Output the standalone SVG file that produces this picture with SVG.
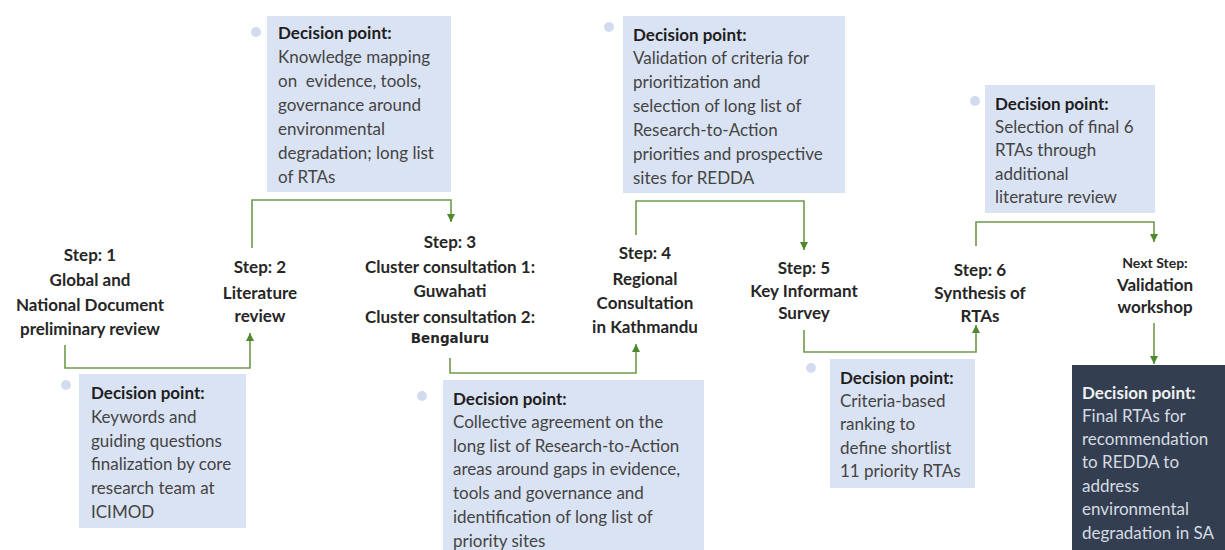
<svg xmlns="http://www.w3.org/2000/svg" width="1225" height="550" viewBox="0 0 1225 550">
<style>
.box{fill:#dae3f3}
.dark{fill:#333f50}
.dot{fill:#d3dcef}
.t{font-family:Lato,"Liberation Sans",sans-serif;font-size:17px;fill:#444}
.h{font-family:Lato,"Liberation Sans",sans-serif;font-size:17px;font-weight:bold;fill:#1e1e1e}
.tw{font-family:Lato,"Liberation Sans",sans-serif;font-size:17px;fill:#d6dbe3}
.hw{font-family:Lato,"Liberation Sans",sans-serif;font-size:17px;font-weight:bold;fill:#eef0f3}
.s{font-family:Lato,"Liberation Sans",sans-serif;font-size:17px;font-weight:bold;fill:#262626;text-anchor:middle}
.ss{font-family:Lato,"Liberation Sans",sans-serif;font-size:14px;font-weight:bold;fill:#262626;text-anchor:middle}
.c{fill:none;stroke:#6f9a4c;stroke-width:1.6}
</style>
<defs>
<marker id="ah" viewBox="0 0 10 10" refX="10" refY="5" markerWidth="8" markerHeight="8" markerUnits="userSpaceOnUse" orient="auto">
<path d="M0,0 L10,5 L0,10 Z" fill="#4e8a2c"/>
</marker>
</defs>
<rect width="1225" height="550" fill="#fff"/>

<g id="connectors">
<polyline class="c" points="65,345 65,368 250,368 250,333" marker-end="url(#ah)"/>
<polyline class="c" points="252,248 252,200 451,200 451,222" marker-end="url(#ah)"/>
<polyline class="c" points="450,358 450,373 636,373 636,344" marker-end="url(#ah)"/>
<polyline class="c" points="636,235 636,201 804,201 804,250" marker-end="url(#ah)"/>
<polyline class="c" points="804,330 804,352 976,352 976,325" marker-end="url(#ah)"/>
<polyline class="c" points="976,246 976,222 1154,222 1154,242" marker-end="url(#ah)"/>
<polyline class="c" points="1154,323 1154,364" marker-end="url(#ah)"/>
</g>

<g id="dp1">
<circle class="dot" cx="256" cy="32" r="5"/>
<rect class="box" x="267" y="16" width="184" height="176"/>
<text class="h" x="278" y="39">Decision point:</text>
<text class="t" x="278" y="63">Knowledge mapping</text>
<text class="t" x="278" y="87" xml:space="preserve">on  evidence, tools,</text>
<text class="t" x="278" y="111">governance around</text>
<text class="t" x="278" y="135">environmental</text>
<text class="t" x="278" y="159">degradation; long list</text>
<text class="t" x="278" y="183">of RTAs</text>
</g>

<g id="dp2">
<circle class="dot" cx="609" cy="27" r="5"/>
<rect class="box" x="623" y="16" width="222" height="177"/>
<text class="h" x="633" y="41">Decision point:</text>
<text class="t" x="633" y="64">Validation of criteria for</text>
<text class="t" x="633" y="88">prioritization and</text>
<text class="t" x="633" y="112">selection of long list of</text>
<text class="t" x="633" y="136">Research-to-Action</text>
<text class="t" x="633" y="160">priorities and prospective</text>
<text class="t" x="633" y="184">sites for REDDA</text>
</g>

<g id="dp3">
<circle class="dot" cx="975" cy="101" r="5"/>
<rect class="box" x="985" y="85" width="170" height="128"/>
<text class="h" x="995" y="110">Decision point:</text>
<text class="t" x="995" y="133">Selection of final 6</text>
<text class="t" x="995" y="156">RTAs through</text>
<text class="t" x="995" y="180">additional</text>
<text class="t" x="995" y="203">literature review</text>
</g>

<g id="dp4">
<circle class="dot" cx="66" cy="385" r="5"/>
<rect class="box" x="79" y="374" width="167" height="154"/>
<text class="h" x="91" y="399">Decision point:</text>
<text class="t" x="91" y="423">Keywords and</text>
<text class="t" x="91" y="447">guiding questions</text>
<text class="t" x="91" y="470">finalization by core</text>
<text class="t" x="91" y="494">research team at</text>
<text class="t" x="91" y="518">ICIMOD</text>
</g>

<g id="dp5">
<circle class="dot" cx="422" cy="396" r="5"/>
<rect class="box" x="443" y="380" width="261" height="170"/>
<text class="h" x="453" y="405">Decision point:</text>
<text class="t" x="453" y="428">Collective agreement on the</text>
<text class="t" x="453" y="452">long list of Research-to-Action</text>
<text class="t" x="453" y="475">areas around gaps in evidence,</text>
<text class="t" x="453" y="499">tools and governance and</text>
<text class="t" x="453" y="523">identification of long list of</text>
<text class="t" x="453" y="547">priority sites</text>
</g>

<g id="dp6">
<circle class="dot" cx="811" cy="368" r="5"/>
<rect class="box" x="830" y="359" width="145" height="129"/>
<text class="h" x="840" y="384">Decision point:</text>
<text class="t" x="840" y="407">Criteria-based</text>
<text class="t" x="840" y="430">ranking to</text>
<text class="t" x="840" y="454">define shortlist</text>
<text class="t" x="840" y="477">11 priority RTAs</text>
</g>

<g id="dp7">
<rect class="dark" x="1072" y="365" width="153" height="185"/>
<text class="hw" x="1082" y="399">Decision point:</text>
<text class="tw" x="1082" y="422">Final RTAs for</text>
<text class="tw" x="1082" y="445">recommendation</text>
<text class="tw" x="1082" y="468">to REDDA to</text>
<text class="tw" x="1082" y="492">address</text>
<text class="tw" x="1082" y="515">environmental</text>
<text class="tw" x="1082" y="539">degradation in SA</text>
</g>

<g id="step1">
<text class="s" x="90" y="261">Step: 1</text>
<text class="s" x="90" y="286">Global and</text>
<text class="s" x="90" y="311">National Document</text>
<text class="s" x="90" y="335">preliminary review</text>
</g>
<g id="step2">
<text class="s" x="260" y="273">Step: 2</text>
<text class="s" x="260" y="299">Literature</text>
<text class="s" x="260" y="322">review</text>
</g>
<g id="step3">
<text class="s" x="450" y="248">Step: 3</text>
<text class="s" x="450" y="273">Cluster consultation 1:</text>
<text class="s" x="450" y="297">Guwahati</text>
<text class="s" x="450" y="323">Cluster consultation 2:</text>
<text class="ss" x="450" y="343" style="font-family:'DejaVu Sans',sans-serif;font-size:13.5px">Bengaluru</text>
</g>
<g id="step4">
<text class="s" x="645" y="259">Step: 4</text>
<text class="s" x="645" y="285">Regional</text>
<text class="s" x="645" y="309">Consultation</text>
<text class="s" x="645" y="333">in Kathmandu</text>
</g>
<g id="step5">
<text class="s" x="804" y="274">Step: 5</text>
<text class="s" x="804" y="297">Key Informant</text>
<text class="s" x="804" y="319">Survey</text>
</g>
<g id="step6">
<text class="s" x="980" y="276">Step: 6</text>
<text class="s" x="980" y="299">Synthesis of</text>
<text class="s" x="980" y="322">RTAs</text>
</g>
<g id="nextstep">
<text class="ss" x="1155" y="268">Next Step:</text>
<text class="s" x="1155" y="291">Validation</text>
<text class="s" x="1155" y="313">workshop</text>
</g>
</svg>
